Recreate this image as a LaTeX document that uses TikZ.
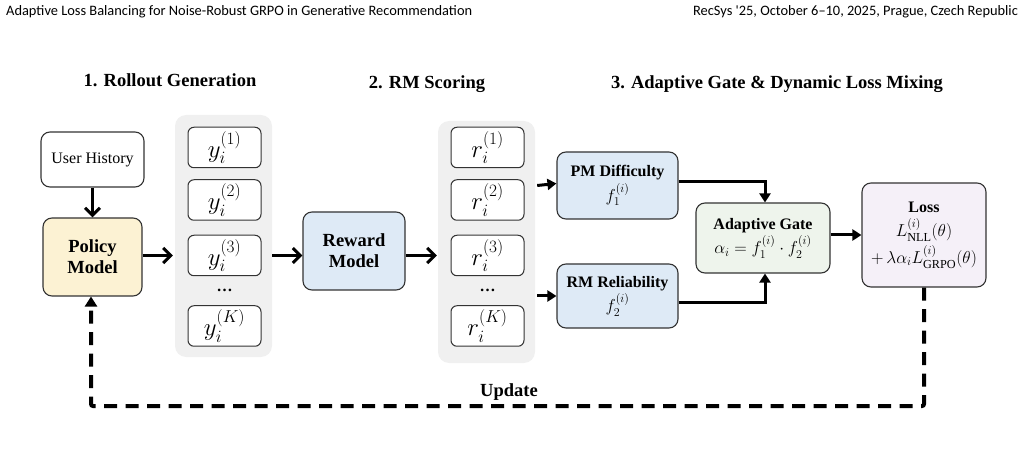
\documentclass[tikz,border=0pt]{standalone}
\usepackage{amsmath}
\usepackage{fontspec}
\setmainfont{Liberation Serif}
\newfontfamily\headfont{Carlito}
\usetikzlibrary{positioning,arrows.meta,calc}
\definecolor{polfill}{HTML}{FCF2D3}
\definecolor{rmfill}{HTML}{DEEAF6}
\definecolor{gatefill}{HTML}{EEF4EC}
\definecolor{lossfill}{HTML}{F5F0F8}
\definecolor{panelfill}{HTML}{F0F0F0}
\definecolor{edgegray}{HTML}{333333}
\newcommand{\bigsz}{\fontsize{18.5}{21}\selectfont}
\newcommand{\midsz}{\fontsize{16}{19}\selectfont}
\newcommand{\mathsz}{\fontsize{17.5}{20}\selectfont}
\tikzset{
    box/.style={draw=edgegray,line width=1.1pt,rounded corners=9pt,align=center,inner sep=0pt},
    ybox/.style={draw=edgegray,line width=1pt,rounded corners=6pt,fill=white,
        minimum width=73pt,minimum height=40.5pt,inner sep=0pt,font=\fontsize{25}{28}\selectfont},
    panel/.style={fill=panelfill,rounded corners=11pt,minimum width=97pt,minimum height=242pt},
    stage/.style={font=\bfseries\bigsz,anchor=base},
    flow/.style={line width=3pt,-{Straight Barb[length=7.5pt,width=15pt,line width=3pt]}},
    feed/.style={line width=3pt,-{Triangle[length=9pt,width=11pt]}},
    update/.style={line width=4pt,dash pattern=on 13pt off 8.5pt,rounded corners=2pt,
        -{Triangle[length=10pt,width=12pt]}},
}
\begin{document}
\begin{tikzpicture}[x=1pt,y=-1pt]
    \useasboundingbox (0,0) rectangle (1021,457);
    % running head
    \node[font=\headfont\fontsize{14.4}{16}\selectfont,anchor=base west,inner sep=0pt] (headl) at (6,16)
        {Adaptive Loss Balancing for Noise-Robust GRPO in Generative Recommendation};
    \node[font=\headfont\fontsize{14.4}{16}\selectfont,anchor=base east,inner sep=0pt] (headr) at (1018,16)
        {RecSys '25, October 6\textendash10, 2025, Prague, Czech Republic};

    % stage titles
    \node[stage] (t1) at (170,87) {1. Rollout Generation};
    \node[stage] (t2) at (427,89) {2. RM Scoring};
    \node[stage] (t3) at (777,89) {3. Adaptive Gate \& Dynamic Loss Mixing};

    % stage 1
    \node[box,fill=white,minimum width=103pt,minimum height=55pt,font=\midsz] (hist) at (92.5,159.5) {User History};
    \node[box,fill=polfill,minimum width=99pt,minimum height=78pt,font=\bfseries\bigsz] (pol) at (92.5,257) {Policy\\Model};
    \node[panel] (pan1) at (223.5,236) {};
    \node[ybox] (y1) at (224.5,147.5) {$y_i^{(1)}$};
    \node[ybox,below=11pt of y1] (y2) {$y_i^{(2)}$};
    \node[ybox,below=14pt of y2] (y3) {$y_i^{(3)}$};
    \node[ybox,below=29pt of y3] (yK) {$y_i^{(K)}$};
    \node[font=\bfseries\midsz] (ydots) at ($(y3.south)!0.5!(yK.north)$) {\dots};

    % stage 2
    \node[box,fill=rmfill,minimum width=102pt,minimum height=78pt,font=\bfseries\bigsz] (rm) at (354,251) {Reward\\Model};
    \node[panel] (pan2) at (486.5,242) {};
    \node[ybox] (r1) at (487.5,147.5) {$r_i^{(1)}$};
    \node[ybox,below=11pt of r1] (r2) {$r_i^{(2)}$};
    \node[ybox,below=14pt of r2] (r3) {$r_i^{(3)}$};
    \node[ybox,below=29pt of r3] (rK) {$r_i^{(K)}$};
    \node[font=\bfseries\midsz] (rdots) at ($(r3.south)!0.5!(rK.north)$) {\dots};

    % stage 3
    \node[box,fill=rmfill,minimum width=121pt,minimum height=67pt,font=\midsz] (pmd) at (617.5,185.5)
        {\textbf{PM Difficulty}\\[2pt]{\mathsz$f_1^{(i)}$}};
    \node[box,fill=rmfill,minimum width=121pt,minimum height=64pt,font=\midsz] (rmr) at (617.5,296)
        {\textbf{RM Reliability}\\[2pt]{\mathsz$f_2^{(i)}$}};
    \node[box,fill=gatefill,minimum width=134pt,minimum height=70pt,font=\midsz] (gate) at (763,238)
        {\textbf{Adaptive Gate}\\[2pt]{\mathsz$\alpha_i = f_1^{(i)}\cdot f_2^{(i)}$}};
    \node[box,fill=lossfill,minimum width=124pt,minimum height=104pt,font=\midsz] (loss) at (924,235)
        {\textbf{Loss}\\[5pt]{\mathsz$L^{(i)}_{\mathrm{NLL}}(\theta)$}\\[3pt]{\mathsz$+\,\lambda\alpha_i L^{(i)}_{\mathrm{GRPO}}(\theta)$}};

    \coordinate (fbk) at (91,406);
    \node[font=\bfseries\bigsz] (upd) at (509,392) {Update};

    % connectors
    \draw[flow] (hist) -- (pol);
    \draw[flow] (pol.east |- y3) -- ([xshift=-2pt]pan1.west |- y3);
    \draw[flow] (pan1.east |- y3) -- (rm.west |- y3);
    \draw[flow] (rm.east |- y3) -- ([xshift=-1pt]pan2.west |- y3);
    \draw[feed] ([xshift=2pt]pan2.east |- pmd.west) -- ([yshift=2pt]pmd.west);
    \draw[feed] ([xshift=2pt]pan2.east |- rmr.west) -- (rmr.west);
    \draw[feed] ([yshift=3.5pt]pmd.east) -| ([xshift=2pt]gate.north);
    \draw[feed] ([yshift=-7pt]rmr.east) -| ([xshift=2pt]gate.south);
    \draw[feed] (gate.east |- loss.west) -- (loss.west);
    \draw[update] (loss.south) |- (fbk) -- (fbk |- pol.south);
\end{tikzpicture}
\end{document}
